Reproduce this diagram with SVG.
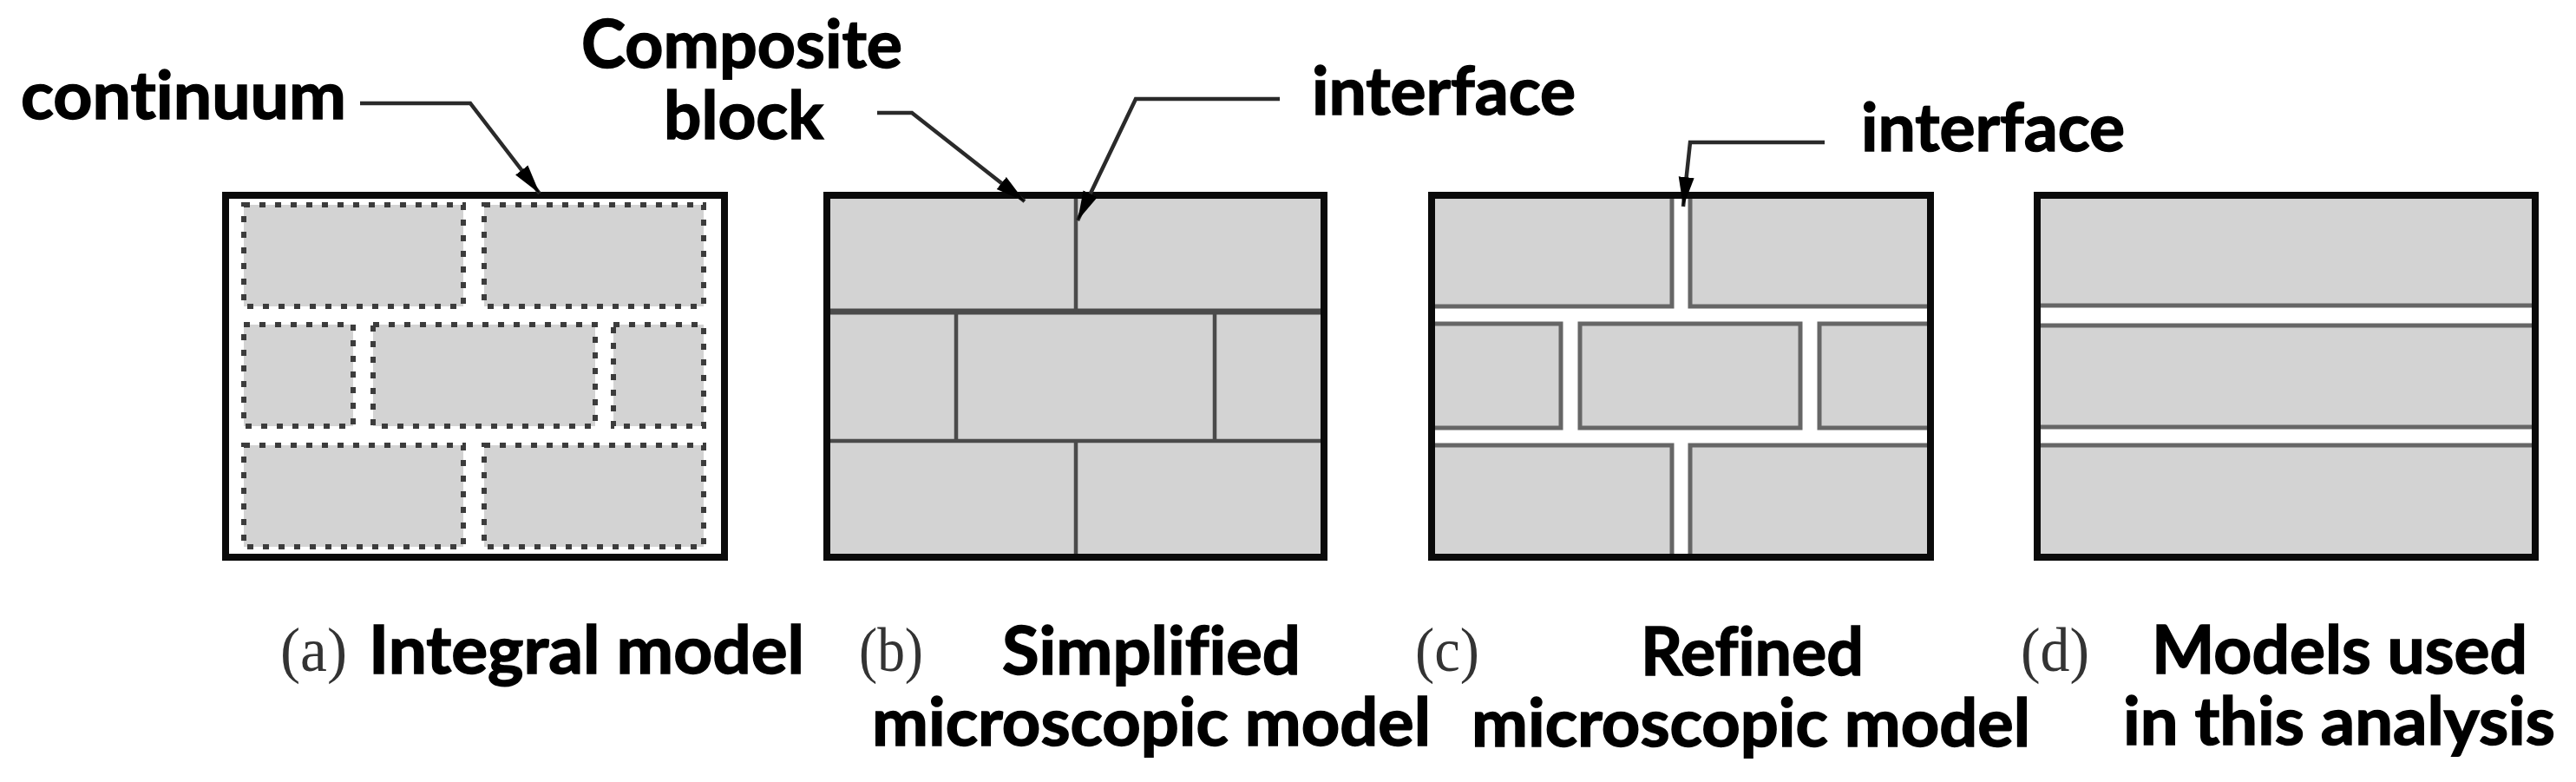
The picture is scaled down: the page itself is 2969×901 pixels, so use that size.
<svg xmlns="http://www.w3.org/2000/svg" width="2969" height="901" viewBox="0 0 2969 901">
<style>
.bg{fill:#fff}
.frame{fill:none;stroke:#0a0a0a;stroke-width:8}
.base{fill:#d3d3d3}
.dot{fill:#d3d3d3;stroke:#3c3c3c;stroke-width:6;stroke-dasharray:7 11}
.solid{fill:#d3d3d3;stroke:#666;stroke-width:5}
.div{fill:none;stroke:#4a4a4a;stroke-width:4.5}
.lead{fill:none;stroke:#2a2a2a;stroke-width:4.5;stroke-linejoin:miter}
.t{font-family:Lato,"Open Sans",sans-serif;font-weight:700;font-size:76px;fill:#000;stroke:#000;stroke-width:1.5;font-variant-ligatures:none}
.p{font-family:"Liberation Serif",serif;font-size:72px;fill:#333}
</style>
<defs>
<marker id="arrow" markerUnits="userSpaceOnUse" markerWidth="36" markerHeight="22" refX="34" refY="11" orient="auto">
<polygon points="0,2 34,11 0,20" fill="#000"/>
</marker>
</defs>
<rect class="bg" width="2969" height="901"/>
<g id="panel-a">
<rect class="dot" x="281" y="236" width="253" height="117"/>
<rect class="dot" x="558" y="236" width="253" height="117"/>
<rect class="dot" x="281" y="374" width="126" height="117"/>
<rect class="dot" x="430" y="374" width="256" height="117"/>
<rect class="dot" x="707" y="374" width="104" height="117"/>
<rect class="dot" x="281" y="513" width="253" height="117"/>
<rect class="dot" x="558" y="513" width="253" height="117"/>
<rect class="frame" x="260" y="225" width="575" height="417"/>
</g>
<g id="panel-b">
<rect class="base" x="953" y="225" width="573" height="417"/>
<path class="div" d="M953 359H1526" style="stroke-width:7"/>
<path class="div" d="M953 508H1526M1240 225V359M1240 508V642M1102 359V508M1400 359V508"/>
<rect class="frame" x="953" y="225" width="573" height="417"/>
</g>
<g id="panel-c">
<rect class="solid" x="1650" y="225" width="277" height="128"/>
<rect class="solid" x="1948" y="225" width="277" height="128"/>
<rect class="solid" x="1650" y="373" width="149" height="120"/>
<rect class="solid" x="1821" y="373" width="254" height="120"/>
<rect class="solid" x="2097" y="373" width="128" height="120"/>
<rect class="solid" x="1650" y="513" width="277" height="129"/>
<rect class="solid" x="1948" y="513" width="277" height="129"/>
<rect class="frame" x="1650" y="225" width="575" height="417"/>
</g>
<g id="panel-d">
<rect class="solid" x="2348" y="225" width="574" height="127"/>
<rect class="solid" x="2348" y="375" width="574" height="117"/>
<rect class="solid" x="2348" y="513" width="574" height="129"/>
<rect class="frame" x="2348" y="225" width="574" height="417"/>
</g>
<g id="connectors">
<path class="lead" marker-end="url(#arrow)" d="M415 119H542L622 223"/>
<path class="lead" marker-end="url(#arrow)" d="M1011 130H1051L1181 232"/>
<path class="lead" marker-end="url(#arrow)" d="M1475 114H1309L1242 254"/>
<path class="lead" marker-end="url(#arrow)" d="M2103 164H1948L1940 238"/>
</g>
<g id="label-continuum"><text class="t" x="24" y="137" textLength="375" lengthAdjust="spacingAndGlyphs">continuum</text></g>
<g id="label-composite">
<text class="t" x="670" y="78" textLength="370" lengthAdjust="spacingAndGlyphs">Composite</text>
<text class="t" x="765" y="160" textLength="184" lengthAdjust="spacingAndGlyphs">block</text>
</g>
<g id="label-interface-b"><text class="t" x="1512" y="132" textLength="304" lengthAdjust="spacingAndGlyphs">interface</text></g>
<g id="label-interface-c"><text class="t" x="2145" y="174" textLength="304" lengthAdjust="spacingAndGlyphs">interface</text></g>
<g id="caption-a">
<text class="p" x="323" y="773" textLength="77" lengthAdjust="spacingAndGlyphs">(a)</text>
<text class="t" x="425" y="776" textLength="502" lengthAdjust="spacingAndGlyphs">Integral model</text>
</g>
<g id="caption-b">
<text class="p" x="990" y="773" textLength="74" lengthAdjust="spacingAndGlyphs">(b)</text>
<text class="t" x="1155" y="777" textLength="344" lengthAdjust="spacingAndGlyphs">Simplified</text>
<text class="t" x="1005" y="859" textLength="644" lengthAdjust="spacingAndGlyphs">microscopic model</text>
</g>
<g id="caption-c">
<text class="p" x="1631" y="773" textLength="74" lengthAdjust="spacingAndGlyphs">(c)</text>
<text class="t" x="1891" y="778" textLength="257" lengthAdjust="spacingAndGlyphs">Refined</text>
<text class="t" x="1696" y="860" textLength="644" lengthAdjust="spacingAndGlyphs">microscopic model</text>
</g>
<g id="caption-d">
<text class="p" x="2329" y="773" textLength="79" lengthAdjust="spacingAndGlyphs">(d)</text>
<text class="t" x="2480" y="776" textLength="433" lengthAdjust="spacingAndGlyphs">Models used</text>
<text class="t" x="2447" y="858" textLength="498" lengthAdjust="spacingAndGlyphs">in this analysis</text>
</g>
</svg>
